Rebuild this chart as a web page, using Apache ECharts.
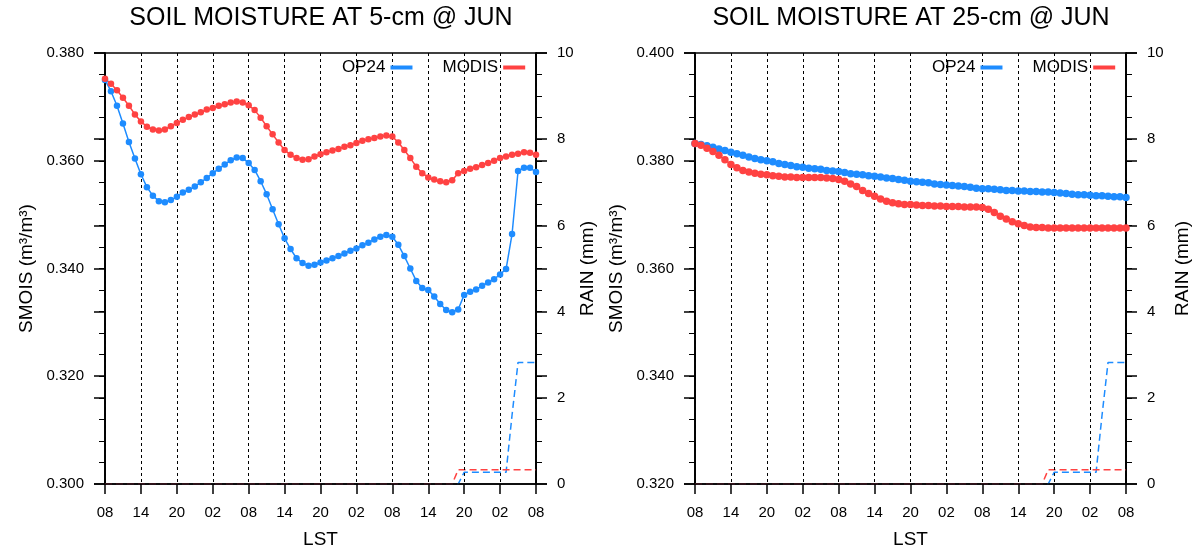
<!DOCTYPE html>
<html>
<head>
<meta charset="utf-8">
<script src="https://cdn.jsdelivr.net/npm/echarts@6/dist/echarts.min.js"></script>
<style>
html,body{margin:0;padding:0;background:#fff;}
#main{width:1192px;height:549px;}
</style>
</head>
<body>
<div id="main"></div>
<script>
// hourly values, 08 LST day 1 -> 08 LST day 4 (73 points)
var lstLabels = ['08','14','20','02','08','14','20','02','08','14','20','02','08'];
var smoisTicks5 = [0.300, 0.380];
var smoisTicks25 = [0.320, 0.400];
var rainTicks = [0, 10];

var op24_5cm = [
  0.3750,0.3729,0.3702,0.3669,0.3635,0.3604,0.3575,0.3551,0.3535,0.3525,0.3523,0.3527,0.3533,
  0.3541,0.3546,0.3552,0.3560,0.3568,0.3577,0.3585,0.3593,0.3601,0.3606,0.3605,0.3596,0.3583,
  0.3562,0.3538,0.3510,0.3482,0.3456,0.3436,0.3419,0.3410,0.3405,0.3407,0.3411,0.3415,0.3419,
  0.3423,0.3428,0.3433,0.3437,0.3443,0.3448,0.3454,0.3459,0.3462,0.3459,0.3444,0.3423,0.3400,
  0.3377,0.3364,0.3360,0.3348,0.3334,0.3323,0.3319,0.3324,0.3351,0.3357,0.3361,0.3368,0.3374,
  0.3380,0.3389,0.3399,0.3464,0.3581,0.3587,0.3587,0.3579
];
var modis_5cm = [
  0.3752,0.3743,0.3731,0.3717,0.3702,0.3686,0.3673,0.3663,0.3658,0.3656,0.3658,0.3664,0.3670,
  0.3676,0.3681,0.3686,0.3690,0.3695,0.3698,0.3702,0.3705,0.3708,0.3710,0.3708,0.3703,0.3694,
  0.3680,0.3664,0.3649,0.3634,0.3620,0.3611,0.3605,0.3602,0.3603,0.3608,0.3612,0.3616,0.3619,
  0.3622,0.3626,0.3629,0.3633,0.3637,0.3640,0.3642,0.3645,0.3647,0.3645,0.3634,0.3620,0.3605,
  0.3589,0.3577,0.3569,0.3565,0.3562,0.3560,0.3564,0.3577,0.3581,0.3585,0.3588,0.3592,0.3596,
  0.3600,0.3605,0.3608,0.3611,0.3613,0.3616,0.3615,0.3611
];
var op24_25cm = [
  0.3832,0.3830,0.3828,0.3825,0.3822,0.3819,0.3816,0.3813,0.3810,0.3807,0.3804,0.3802,0.3800,
  0.3798,0.3795,0.3793,0.3791,0.3789,0.3788,0.3786,0.3785,0.3784,0.3782,0.3781,0.3780,0.3778,
  0.3776,0.3775,0.3774,0.3772,0.3771,0.3770,0.3768,0.3767,0.3765,0.3764,0.3762,0.3761,0.3760,
  0.3759,0.3757,0.3756,0.3755,0.3754,0.3753,0.3752,0.3751,0.3749,0.3748,0.3748,0.3747,0.3746,
  0.3745,0.3745,0.3744,0.3744,0.3743,0.3743,0.3742,0.3742,0.3741,0.3740,0.3739,0.3738,0.3737,
  0.3737,0.3736,0.3735,0.3735,0.3734,0.3733,0.3733,0.3732
];
var modis_25cm = [
  0.3832,0.3829,0.3823,0.3817,0.3810,0.3802,0.3793,0.3787,0.3782,0.3779,0.3777,0.3775,0.3774,
  0.3772,0.3771,0.3770,0.3770,0.3769,0.3769,0.3769,0.3769,0.3769,0.3768,0.3767,0.3765,0.3762,
  0.3757,0.3752,0.3745,0.3739,0.3734,0.3729,0.3725,0.3722,0.3720,0.3719,0.3719,0.3718,0.3717,
  0.3717,0.3716,0.3716,0.3715,0.3715,0.3715,0.3714,0.3714,0.3714,0.3713,0.3710,0.3704,0.3697,
  0.3692,0.3687,0.3683,0.3680,0.3677,0.3676,0.3676,0.3675,0.3675,0.3675,0.3675,0.3675,0.3675,
  0.3675,0.3675,0.3675,0.3675,0.3675,0.3675,0.3675,0.3675
];
// accumulated rain (mm)
var op24_rain = [
  0,0,0,0,0,0,0,0,0,0,0,0,0,0,0,0,0,0,0,0,0,0,0,0,0,
  0,0,0,0,0,0,0,0,0,0,0,0,0,0,0,0,0,0,0,0,0,0,0,0,0,
  0,0,0,0,0,0,0,0,0,0,0.27,0.27,0.27,0.27,0.27,0.27,0.27,0.27,1.6,2.82,2.82,2.82,2.82
];
var modis_rain = [
  0,0,0,0,0,0,0,0,0,0,0,0,0,0,0,0,0,0,0,0,0,0,0,0,0,
  0,0,0,0,0,0,0,0,0,0,0,0,0,0,0,0,0,0,0,0,0,0,0,0,0,
  0,0,0,0,0,0,0,0,0,0.33,0.33,0.33,0.33,0.33,0.33,0.33,0.33,0.33,0.33,0.33,0.33,0.33,0.33
];

var BLUE = '#1e8cff';
var RED = '#ff4242';
var FONT = '"Liberation Sans", Arial, sans-serif';

function pairs(arr) {
  return arr.map(function (v, i) { return [i, v]; });
}

function yAx(grid, pos, range, interval, minorSplit, labels, digits, name, gap) {
  return {
    type: 'value', gridIndex: grid, position: pos,
    min: range[0], max: range[1], interval: interval,
    name: name || '', nameLocation: 'middle', nameGap: gap || 0, nameRotate: 90,
    nameTextStyle: {color: '#000', fontSize: 19, fontFamily: FONT},
    axisLine: {show: true, onZero: false, lineStyle: {color: '#000', width: 1.5}},
    axisTick: {show: true, inside: false, length: 11, lineStyle: {color: '#000', width: 1.5}},
    minorTick: {show: true, splitNumber: minorSplit, length: 6, lineStyle: {color: '#000', width: 1}},
    axisLabel: {show: labels, margin: 21, color: '#000', fontSize: 15, fontFamily: FONT,
      formatter: function (v) { return v.toFixed(digits); }},
    splitLine: {show: false}
  };
}

function xAx(grid) {
  return {
    type: 'value', gridIndex: grid, position: 'bottom', min: 0, max: 72, interval: 6, z: 2,
    name: 'LST', nameLocation: 'middle', nameGap: 46,
    nameTextStyle: {color: '#000', fontSize: 19, fontFamily: FONT},
    axisLine: {onZero: false, lineStyle: {color: '#000', width: 1.5}},
    axisTick: {length: 10, lineStyle: {color: '#000', width: 1.5}},
    axisLabel: {margin: 21, color: '#000', fontSize: 15, fontFamily: FONT,
      formatter: function (v) { return lstLabels[Math.round(v / 6)]; }},
    splitLine: {show: true, lineStyle: {color: '#000', width: 1, type: [3, 3]}}
  };
}

function smois(name, grid, y, data, color, size) {
  return {
    name: name, type: 'line', xAxisIndex: grid, yAxisIndex: y, data: pairs(data),
    symbol: 'circle', symbolSize: size, z: 3,
    lineStyle: {color: color, width: 1.5}, itemStyle: {color: color}
  };
}

function rain(name, grid, y, data, color) {
  return {
    name: name, type: 'line', xAxisIndex: grid, yAxisIndex: y, data: pairs(data),
    symbol: 'none', z: 1,
    lineStyle: {color: color, width: 1.5, type: [7, 4]}
  };
}

function legendAt(left) {
  return {
    left: left, top: 54, align: 'right', icon: 'rect', itemWidth: 22, itemHeight: 4, itemGap: 30,
    selectedMode: false, textStyle: {color: '#000', fontSize: 17, fontFamily: FONT},
    data: ['OP24', 'MODIS']
  };
}

var myChart = echarts.init(document.getElementById('main'));

var option = {
  backgroundColor: '#fff',
  animation: false,
  graphic: [
    {type: 'text', x: 321, y: 18, style: {text: 'SOIL MOISTURE AT 5-cm @ JUN', fill: '#000',
      fontSize: 25, fontFamily: FONT, align: 'center', verticalAlign: 'middle'}},
    {type: 'text', x: 911, y: 18, style: {text: 'SOIL MOISTURE AT 25-cm @ JUN', fill: '#000',
      fontSize: 25, fontFamily: FONT, align: 'center', verticalAlign: 'middle'}}
  ],
  legend: [legendAt(337), legendAt(927)],
  grid: [
    {left: 105, top: 53, width: 431, height: 431, outerBoundsMode: 'none',
      show: true, borderColor: '#000', borderWidth: 1.5},
    {left: 695, top: 53, width: 431, height: 431, outerBoundsMode: 'none',
      show: true, borderColor: '#000', borderWidth: 1.5}
  ],
  xAxis: [xAx(0), xAx(1)],
  yAxis: [
    yAx(0, 'left', smoisTicks5, 0.02, 5, true, 3, 'SMOIS (m³/m³)', 69),
    yAx(0, 'right', rainTicks, 2, 4, true, 0, 'RAIN (mm)', 42),
    yAx(0, 'right', smoisTicks5, 0.02, 5, false, 3),
    yAx(0, 'left', rainTicks, 2, 4, false, 0),
    yAx(1, 'left', smoisTicks25, 0.02, 5, true, 3, 'SMOIS (m³/m³)', 69),
    yAx(1, 'right', rainTicks, 2, 4, true, 0, 'RAIN (mm)', 47),
    yAx(1, 'right', smoisTicks25, 0.02, 5, false, 3),
    yAx(1, 'left', rainTicks, 2, 4, false, 0)
  ],
  series: [
    rain('OP24 rain', 0, 1, op24_rain, BLUE),
    rain('MODIS rain', 0, 1, modis_rain, RED),
    smois('OP24', 0, 0, op24_5cm, BLUE, 6.5),
    smois('MODIS', 0, 0, modis_5cm, RED, 6.5),
    rain('OP24 rain', 1, 5, op24_rain, BLUE),
    rain('MODIS rain', 1, 5, modis_rain, RED),
    smois('OP24', 1, 4, op24_25cm, BLUE, 7.5),
    smois('MODIS', 1, 4, modis_25cm, RED, 7.5)
  ]
};

myChart.setOption(option);
</script>
</body>
</html>
